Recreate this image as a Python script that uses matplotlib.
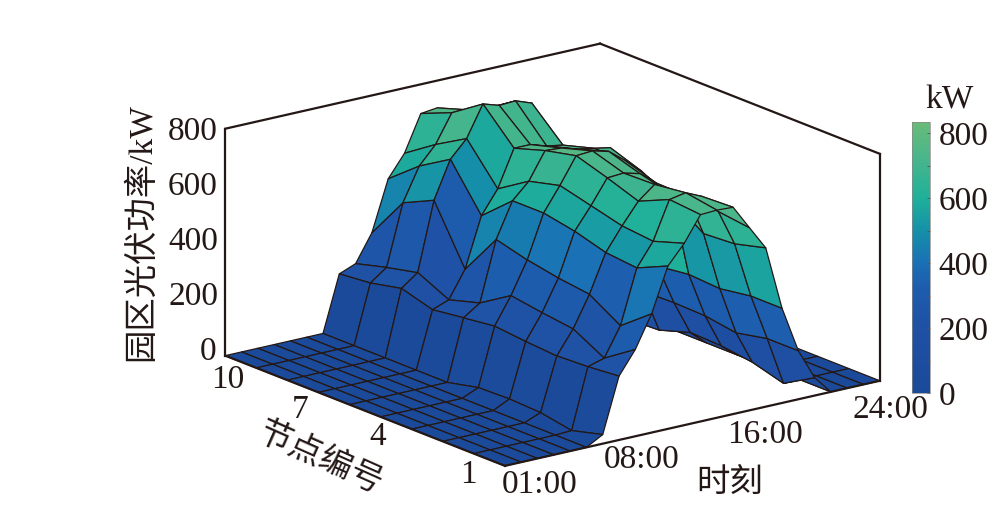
# 园区光伏功率 surface plot
import numpy as np
import matplotlib
matplotlib.use('Agg')
import matplotlib.pyplot as plt
from matplotlib.colors import LinearSegmentedColormap, Normalize
from matplotlib.cm import ScalarMappable

plt.rcParams['font.family'] = ['Liberation Serif', 'Noto Sans CJK SC']

hours = np.arange(1, 25)
nodes = np.arange(1, 11)

# power per hour (rows 01:00..24:00), columns node 1..10
h01_06 = [0] * 10
h07 = [32, 3, 23, 28, 25, 0, 0, 0, 0, 0]
h08 = [225, 215, 210, 218, 229, 215, 200, 232, 208, 197]
h09 = [306, 232, 292, 306, 323, 254, 222, 275, 250, 220]
h10 = [419, 334, 401, 415, 436, 465, 317, 517, 465, 316]
h11 = [574, 524, 535, 567, 588, 588, 492, 648, 581, 493]
h12 = [641, 605, 616, 644, 672, 644, 574, 708, 644, 570]
h13 = [729, 739, 690, 729, 764, 739, 704, 817, 743, 697]
h14 = [732, 750, 736, 733, 768, 735, 704, 799, 740, 704]
h15 = [729, 724, 690, 718, 753, 718, 686, 802, 730, 660]
h16 = [644, 658, 669, 672, 708, 708, 676, 781, 720, 650]
h17 = [560, 531, 524, 600, 658, 697, 634, 623, 650, 620]
h18 = [334, 334, 317, 324, 310, 330, 340, 340, 330, 320]
h19 = [171, 171, 148, 165, 168, 165, 170, 170, 165, 160]
h20 = [63, 0, 31, 46, 50, 15, 10, 10, 10, 10]
h21_24 = [0] * 10

power = np.array([h01_06] * 6 + [h07, h08, h09, h10, h11, h12, h13, h14, h15,
                                 h16, h17, h18, h19, h20] + [h21_24] * 4, dtype=float)

hour_labels = ['01:00', '08:00', '16:00', '24:00']
node_ticks = [1, 4, 7, 10]
power_ticks = [0, 200, 400, 600, 800]

BLACK = '#231815'
cmap = LinearSegmentedColormap.from_list(
    'pv', [(0, '#1c4a9a'), (0.24, '#1f50a4'), (0.4, '#1d5eae'), (0.48, '#1a70b5'),
           (0.6, '#1590a8'), (0.72, '#1fb09a'), (0.88, '#4cb68a'), (1, '#68bb78')])
norm = Normalize(0, 834)

fig = plt.figure(figsize=(10, 5.22), dpi=100)


def fx(px):
    return px / 1000


def fy(py):
    return 1 - py / 522


ax = fig.add_axes([0.039, -0.4719, 1, 1.916], projection='3d')
ax.set_proj_type('ortho')
ax.view_init(elev=17.4, azim=-127.2)
ax.set_box_aspect((471, 463, 238), zoom=0.681)
ax.set_xlim(1, 24, view_margin=0)
ax.set_ylim(1, 10, view_margin=0)
ax.set_zlim(0, 800, view_margin=0)
ax.set_axis_off()
ax.patch.set_alpha(0)
ax.computed_zorder = False

X, Y = np.meshgrid(hours, nodes, indexing='ij')
ax.plot_surface(X, Y, power, rstride=1, cstride=1, facecolors=cmap(norm(power)),
                shade=False, edgecolor=BLACK, linewidth=0.9, zorder=2)

# box outline
x0, x1, y0, y1, z0, z1 = 1, 24, 1, 10, 0, 800
for xs, ys, zs in [([x0, x1], [y1, y1], [z1, z1]), ([x1, x1], [y1, y0], [z1, z1]),
                   ([x0, x0], [y1, y1], [z0, z1]), ([x1, x1], [y0, y0], [z0, z1])]:
    ax.plot(xs, ys, zs, color=BLACK, lw=1.6, zorder=1)
for xs, ys, zs in [([x0, x1], [y0, y0], [z0, z0]), ([x0, x0], [y0, y1], [z0, z0])]:
    ax.plot(xs, ys, zs, color=BLACK, lw=1.6, zorder=3)

# text
fs = 24
for lab, px, py in zip(power_ticks, [208, 193, 193, 193, 193], [352, 297, 242, 187, 132]):
    fig.text(fx(px), fy(py), str(lab), fontsize=fs, color=BLACK, ha='center', va='center')
for lab, px, py in zip(node_ticks, [468, 378, 300, 228], [475, 437, 410, 380]):
    fig.text(fx(px), fy(py), str(lab), fontsize=fs, color=BLACK, ha='center', va='center')
for lab, px, py in zip(hour_labels, [540, 642, 765, 890], [485, 460, 435, 410]):
    fig.text(fx(px), fy(py), lab, fontsize=fs, color=BLACK, ha='center', va='center')
fig.text(fx(142), fy(232), '园区光伏功率/kW', fontsize=fs, color=BLACK, rotation=90,
         ha='center', va='center')
fig.text(fx(320), fy(458), '节点编号', fontsize=fs, color=BLACK, rotation=-24,
         ha='center', va='center')
fig.text(fx(730), fy(484), '时刻', fontsize=fs, color=BLACK, ha='center', va='center')
fig.text(fx(950), fy(100), 'kW', fontsize=fs, color=BLACK, ha='center', va='center')

# colorbar
cax = fig.add_axes([fx(912), fy(393), 0.018, 271 / 522])
cb = fig.colorbar(ScalarMappable(norm=norm, cmap=cmap), cax=cax)
cb.set_ticks(power_ticks)
cb.set_ticks(np.arange(100, 800, 200), minor=True)
cb.ax.tick_params(which='both', direction='in', length=2, width=0.6, color='#555555',
                  labelsize=fs, labelcolor=BLACK, pad=6)
cb.outline.set_linewidth(0.5)
cb.outline.set_edgecolor('#888888')

fig.savefig('out.png', dpi=100)
